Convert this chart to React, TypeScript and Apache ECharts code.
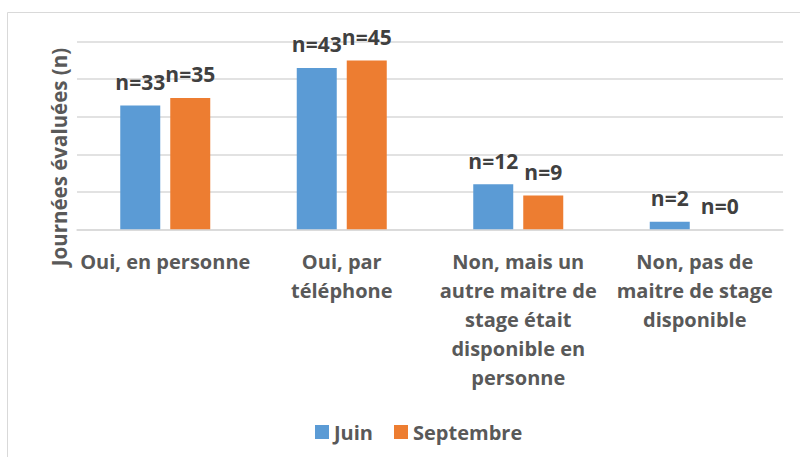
import React, { useEffect, useRef } from "react";
import * as echarts from "echarts";

const categories = [
  "Oui, en personne",
  "Oui, par\ntéléphone",
  "Non, mais un\nautre maitre de\nstage était\ndisponible en\npersonne",
  "Non, pas de\nmaitre de stage\ndisponible",
];
const juin = [33, 43, 12, 2];
const septembre = [35, 45, 9, 0];
const seriesNames = ["Juin", "Septembre"];
const yAxisTitle = "Journées évaluées (n)";

const FONT = "'Open Sans', 'Noto Sans', sans-serif";
const TEXT = "#595959";
const GRID = "#d9d9d9";

export default function App() {
  const ref = useRef<HTMLDivElement>(null);
  useEffect(() => {
    document.body.style.margin = "0";
    if (!ref.current) return;
    const chart = echarts.init(ref.current, null, { renderer: "svg" });
    const label = {
      show: true,
      position: "top" as const,
      distance: 13,
      formatter: "n={c}",
      fontFamily: FONT,
      fontWeight: "bold" as const,
      fontSize: 21,
      color: "#404040",
    };
    chart.setOption({
      animation: false,
      backgroundColor: "#ffffff",
      textStyle: { fontFamily: FONT },
      grid: { left: 77, right: 17, top: 41.7, bottom: 227.7, containLabel: false },
      legend: {
        data: seriesNames,
        left: 310,
        top: 417,
        itemWidth: 14,
        itemHeight: 14,
        itemGap: 21,
        icon: "rect",
        textStyle: { fontFamily: FONT, fontWeight: "bold", fontSize: 20, color: TEXT },
      },
      xAxis: {
        type: "category",
        data: categories,
        axisLine: { lineStyle: { color: GRID, width: 1.5 } },
        axisTick: { show: false },
        axisLabel: {
          interval: 0,
          margin: 18,
          fontFamily: FONT,
          fontWeight: "bold",
          fontSize: 20,
          lineHeight: 29,
          color: TEXT,
          align: "center",
        },
      },
      yAxis: {
        type: "value",
        min: 0,
        max: 50,
        interval: 10,
        axisLine: { show: false },
        axisTick: { show: false },
        axisLabel: { show: false },
        splitLine: { lineStyle: { color: GRID, width: 1.5 } },
      },
      graphic: [
        {
          type: "rect",
          shape: { x: 7.5, y: 12.5, width: 900, height: 500 },
          style: { fill: "none", stroke: GRID, lineWidth: 1 },
          silent: true,
          z: -1,
        },
        {
          type: "text",
          x: 59,
          y: 157,
          rotation: Math.PI / 2,
          style: {
            text: yAxisTitle,
            fontFamily: FONT,
            fontWeight: "bold",
            fontSize: 20.5,
            fill: TEXT,
            align: "center",
            verticalAlign: "middle",
          },
        },
      ],
      series: [
        {
          name: seriesNames[0],
          type: "bar",
          data: juin,
          barWidth: 40,
          barGap: "25%",
          itemStyle: { color: "#5B9BD5" },
          label,
        },
        {
          name: seriesNames[1],
          type: "bar",
          data: septembre,
          barWidth: 40,
          itemStyle: { color: "#ED7D31" },
          label,
        },
      ],
    });
    return () => chart.dispose();
  }, []);
  return <div ref={ref} style={{ width: 800, height: 457 }} />;
}
